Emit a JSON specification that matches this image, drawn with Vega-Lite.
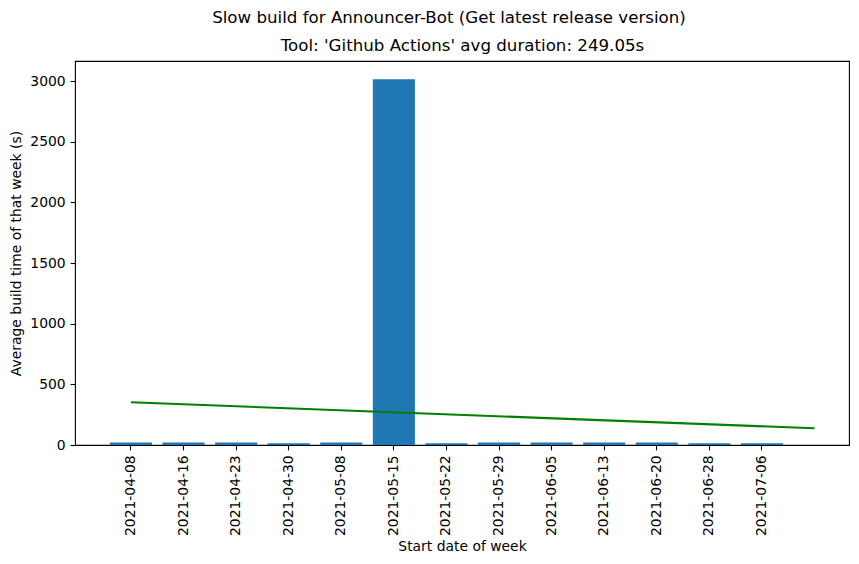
{
  "$schema": "https://vega.github.io/schema/vega-lite/v6.json",
  "width": 774,
  "height": 384,
  "autosize": "none",
  "padding": {"left": 75, "top": 61, "right": 10, "bottom": 119},
  "background": "white",
  "title": {
    "text": "Slow build for Announcer-Bot (Get latest release version)",
    "anchor": "middle",
    "dx": -13,
    "offset": 10,
    "font": "DejaVu Sans",
    "fontSize": 16.67,
    "fontWeight": "normal",
    "color": "black"
  },
  "config": {
    "view": {"stroke": "black", "strokeWidth": 1.1},
    "font": "DejaVu Sans",
    "axis": {
      "grid": false,
      "domain": false,
      "labelFont": "DejaVu Sans",
      "labelFontSize": 13.9,
      "labelColor": "black",
      "titleFont": "DejaVu Sans",
      "titleFontSize": 13.9,
      "titleFontWeight": "normal",
      "titleColor": "black",
      "tickColor": "black",
      "tickSize": 4.9,
      "tickWidth": 1.1,
      "labelPadding": 4.9
    }
  },
  "layer": [
    {
      "data": {
        "values": [
          {"week": "2021-04-08", "avg": 21},
          {"week": "2021-04-16", "avg": 21},
          {"week": "2021-04-23", "avg": 21},
          {"week": "2021-04-30", "avg": 14},
          {"week": "2021-05-08", "avg": 21},
          {"week": "2021-05-15", "avg": 3014},
          {"week": "2021-05-22", "avg": 14},
          {"week": "2021-05-29", "avg": 21},
          {"week": "2021-06-05", "avg": 21},
          {"week": "2021-06-13", "avg": 21},
          {"week": "2021-06-20", "avg": 21},
          {"week": "2021-06-28", "avg": 14},
          {"week": "2021-07-06", "avg": 14}
        ]
      },
      "mark": {"type": "bar", "color": "#1f77b4"},
      "encoding": {
        "x": {
          "field": "week",
          "type": "ordinal",
          "sort": null,
          "scale": {"paddingInner": 0.2, "paddingOuter": 0.96, "align": 0.346},
          "axis": {"orient": "bottom", "title": "Start date of week", "labelAngle": -90, "titlePadding": 4}
        },
        "y": {
          "field": "avg",
          "type": "quantitative",
          "scale": {"domain": [0, 3165], "nice": false},
          "axis": {"values": [0, 500, 1000, 1500, 2000, 2500, 3000], "format": "d", "title": "Average build time of that week (s)", "titlePadding": 6}
        }
      }
    },
    {
      "data": {"values": [{"idx": 0, "trend": 352}, {"idx": 13, "trend": 138}]},
      "mark": {"type": "line", "color": "#008000", "strokeWidth": 2.08},
      "encoding": {
        "x": {
          "field": "idx",
          "type": "quantitative",
          "scale": {"domain": [-1.065, 13.655], "nice": false, "zero": false},
          "axis": {"orient": "top", "title": "Tool: 'Github Actions' avg duration: 249.05s", "labels": false, "ticks": false, "domain": false, "grid": false, "titleFontSize": 16.67, "titlePadding": 7}
        },
        "y": {
          "field": "trend",
          "type": "quantitative",
          "scale": {"domain": [0, 3165], "nice": false}
        }
      }
    }
  ],
  "resolve": {"scale": {"x": "independent"}}
}
